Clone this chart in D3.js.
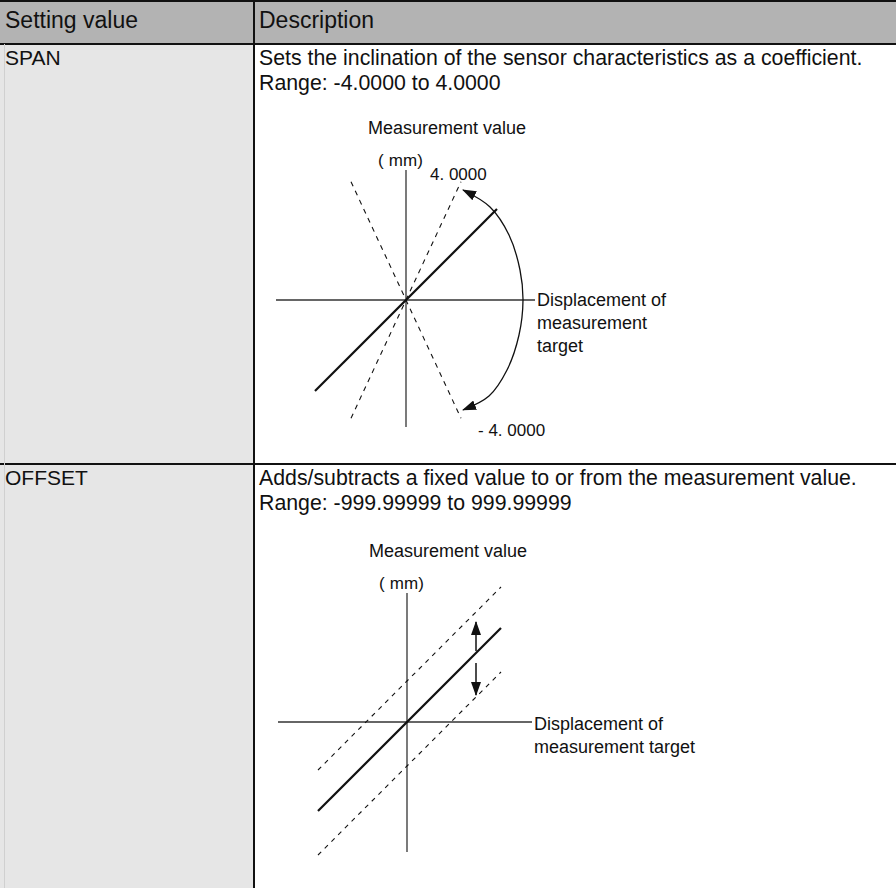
<!DOCTYPE html>
<html>
<head>
<meta charset="utf-8">
<script src="https://cdn.jsdelivr.net/npm/d3@7"></script>
<style>
  body { margin: 0; background: #fff; }
  svg { display: block; font-family: 'Liberation Sans', Arial, sans-serif; }
  .head { font-family: 'Liberation Sans Narrow', 'Liberation Sans', Arial, sans-serif; }
</style>
</head>
<body>
<div id="table"></div>
<script>
// table text
const headers = ['Setting value', 'Description'];
const settings = ['SPAN', 'OFFSET'];
const descriptions = [
  'Sets the inclination of the sensor characteristics as a coefficient.',
  'Adds/subtracts a fixed value to or from the measurement value.'
];
const ranges = ['Range: -4.0000 to 4.0000', 'Range: -999.99999 to 999.99999'];

// chart text
const yTitle = 'Measurement value';
const unitText = '( mm)';
const spanXTitle = ['Displacement of', 'measurement', 'target'];
const offsetXTitle = ['Displacement of', 'measurement target'];
const spanLimitLabels = ['4. 0000', '- 4. 0000'];

// SPAN figure (units: drawing units around the origin, y up)
const spanSlopes = [1, 2.15, -2.15];
const spanHalfWidths = [91, 55, 55];
const spanDashed = [false, true, true];
const spanArc = [[57, 110], [84, 93], [103, 65], [114, 30], [117, 0], [113, -35], [101, -70], [83, -96], [57, -110]];

// OFFSET figure
const offsetShifts = [0, 41, -44];
const offsetDashed = [false, true, true];
const offsetXRange = [-89, 94];
const offsetArrows = [[69, 71, 100], [69, 59, 27]];

const W = 896;
const H = 888;
const colX = 254;
const rowY = [44, 464, 888];

const svg = d3.select('#table').append('svg')
  .attr('width', W)
  .attr('height', H);

const defs = svg.append('defs');
defs.append('marker')
  .attr('id', 'head')
  .attr('viewBox', '0 0 14 10')
  .attr('refX', 13)
  .attr('refY', 5)
  .attr('markerWidth', 14)
  .attr('markerHeight', 10)
  .attr('markerUnits', 'userSpaceOnUse')
  .attr('orient', 'auto-start-reverse')
  .append('path')
  .attr('d', 'M0,0 L14,5 L0,10 Z')
  .attr('fill', '#111');

// backgrounds
svg.append('rect').attr('x', 0).attr('y', 0).attr('width', W).attr('height', rowY[0]).attr('fill', '#b3b3b3');
svg.append('rect').attr('x', 0).attr('y', rowY[0]).attr('width', colX).attr('height', H - rowY[0]).attr('fill', '#e6e6e6');

// rules
const rules = svg.append('g').attr('stroke', '#111');
rules.append('line').attr('x1', 0).attr('x2', W).attr('y1', 1).attr('y2', 1).attr('stroke-width', 2);
rowY.slice(0, 2).forEach(y => {
  rules.append('line').attr('x1', 0).attr('x2', W).attr('y1', y).attr('y2', y).attr('stroke-width', 2);
});
rules.append('line').attr('x1', colX).attr('x2', colX).attr('y1', 0).attr('y2', H).attr('stroke-width', 2);
rules.append('line').attr('x1', 4.5).attr('x2', 4.5).attr('y1', rowY[0]).attr('y2', H)
  .attr('stroke', '#d0d0d0').attr('stroke-width', 1);

// header
svg.selectAll('.head')
  .data(headers)
  .enter()
  .append('text')
  .attr('class', 'head')
  .attr('x', (d, i) => i === 0 ? 5 : colX + 5)
  .attr('y', 28)
  .attr('font-size', 23)
  .attr('fill', '#111')
  .text(d => d);

// rows
settings.forEach((name, i) => {
  const top = rowY[i];
  svg.append('text').attr('x', 5).attr('y', top + 21).attr('font-size', 21).attr('fill', '#111').text(name);
  svg.append('text').attr('x', colX + 5).attr('y', top + 21).attr('font-size', 21.3).attr('fill', '#111').text(descriptions[i]);
  svg.append('text').attr('x', colX + 5).attr('y', top + 46).attr('font-size', 21.3).attr('fill', '#111').text(ranges[i]);
});

function makeScales(ox, oy) {
  const x = d3.scaleLinear().domain([-130, 130]).range([ox - 130, ox + 130]);
  const y = d3.scaleLinear().domain([-130, 130]).range([oy + 130, oy - 130]);
  return { x, y };
}

function drawFrame(g, x, y, xExt, yExt, xTitle, titleDy) {
  g.append('line')
    .attr('x1', x(xExt[0])).attr('x2', x(xExt[1]))
    .attr('y1', y(0)).attr('y2', y(0))
    .attr('stroke', '#333').attr('stroke-width', 1.3);
  g.append('line')
    .attr('x1', x(0)).attr('x2', x(0))
    .attr('y1', y(yExt[0])).attr('y2', y(yExt[1]))
    .attr('stroke', '#333').attr('stroke-width', 1.3);

  g.append('text')
    .attr('x', x(0) - 38).attr('y', y(yExt[1]) - 36)
    .attr('font-size', 18).attr('fill', '#111')
    .text(yTitle);
  g.append('text')
    .attr('x', x(0) - 28).attr('y', y(yExt[1]) - 4)
    .attr('font-size', 17).attr('fill', '#111')
    .attr('textLength', 45)
    .text(unitText);

  g.selectAll('.xt')
    .data(xTitle)
    .enter()
    .append('text')
    .attr('class', 'xt')
    .attr('x', x(xExt[1]) + 2)
    .attr('y', (d, i) => y(0) + titleDy + i * 23)
    .attr('font-size', 18)
    .attr('fill', '#111')
    .text(d => d);
}

// SPAN chart
(function () {
  const { x, y } = makeScales(406, 300);
  const g = svg.append('g').attr('class', 'span-chart');
  drawFrame(g, x, y, [-130, 129], [-127, 130], spanXTitle, 6);

  g.selectAll('.sl')
    .data(spanSlopes)
    .enter()
    .append('line')
    .attr('class', 'sl')
    .attr('x1', (d, i) => x(-spanHalfWidths[i]))
    .attr('y1', (d, i) => y(-spanHalfWidths[i] * d))
    .attr('x2', (d, i) => x(spanHalfWidths[i]))
    .attr('y2', (d, i) => y(spanHalfWidths[i] * d))
    .attr('stroke', '#111')
    .attr('stroke-width', (d, i) => spanDashed[i] ? 1.1 : 2.2)
    .attr('stroke-dasharray', (d, i) => spanDashed[i] ? '5,5' : null);

  const arc = d3.line().x(d => x(d[0])).y(d => y(d[1])).curve(d3.curveCatmullRom);
  g.append('path')
    .attr('d', arc(spanArc))
    .attr('fill', 'none')
    .attr('stroke', '#111')
    .attr('stroke-width', 1.3)
    .attr('marker-start', 'url(#head)')
    .attr('marker-end', 'url(#head)');

  g.append('text').attr('x', x(24)).attr('y', y(120)).attr('font-size', 17).attr('fill', '#111').text(spanLimitLabels[0]);
  g.append('text').attr('x', x(72)).attr('y', y(-136)).attr('font-size', 17).attr('fill', '#111').text(spanLimitLabels[1]);
})();

// OFFSET chart
(function () {
  const { x, y } = makeScales(407, 722);
  const g = svg.append('g').attr('class', 'offset-chart');
  drawFrame(g, x, y, [-129, 125], [-130, 129], offsetXTitle, 8);

  g.selectAll('.ol')
    .data(offsetShifts)
    .enter()
    .append('line')
    .attr('class', 'ol')
    .attr('x1', x(offsetXRange[0]))
    .attr('y1', d => y(offsetXRange[0] + d))
    .attr('x2', x(offsetXRange[1]))
    .attr('y2', d => y(offsetXRange[1] + d))
    .attr('stroke', '#111')
    .attr('stroke-width', (d, i) => offsetDashed[i] ? 1.1 : 2.2)
    .attr('stroke-dasharray', (d, i) => offsetDashed[i] ? '4.5,5' : null);

  g.selectAll('.oa')
    .data(offsetArrows)
    .enter()
    .append('line')
    .attr('class', 'oa')
    .attr('x1', d => x(d[0])).attr('x2', d => x(d[0]))
    .attr('y1', d => y(d[1])).attr('y2', d => y(d[2]))
    .attr('stroke', '#111')
    .attr('stroke-width', 1.5)
    .attr('marker-end', 'url(#head)');
})();
</script>
</body>
</html>
